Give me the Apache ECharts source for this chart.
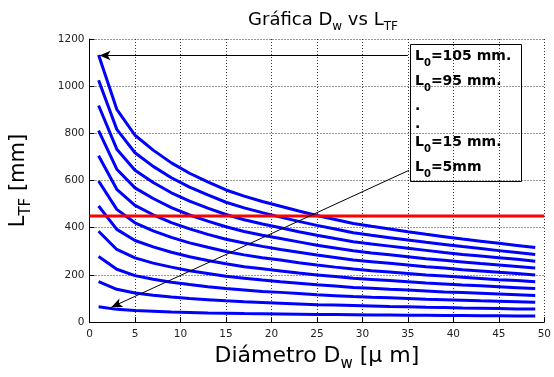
<!DOCTYPE html>
<html>
<head>
<meta charset="utf-8">
<script src="https://cdn.jsdelivr.net/npm/echarts@6/dist/echarts.min.js"></script>
<style>html,body{margin:0;padding:0;background:#fff}#c{width:554px;height:377px}</style>
</head>
<body>
<div id="c"></div>
<script>
// Diameter D_w [um] sample points
const Dw = [1,3,5,7,9,11,13,15,17,19,21,23,25,27,29,31,33,35,37,39,41,43,45,47,49];
// L_TF [mm] per L0 curve
const L5   = [65,54,49,46,43,41,39,38,36,35,34,33,32,32,31,30,30,29,29,28,28,27,27,26,26];
const L15  = [172,139,123,114,106,100,95,90,86,83,80,77,74,72,70,68,66,65,63,62,60,59,58,56,55];
const L25  = [278,224,197,182,169,159,150,142,136,130,126,121,116,112,108,105,103,100,97,95,93,90,88,86,84];
const L35  = [385,308,272,250,233,218,206,194,186,178,171,165,158,153,147,143,139,136,132,128,125,122,119,116,113];
const L45  = [492,393,346,319,296,277,261,247,235,226,217,208,200,193,186,181,176,171,166,162,157,154,150,146,142];
const L55  = [598,478,421,387,359,336,317,299,285,273,263,252,242,233,225,218,212,206,200,195,190,185,180,176,171];
const L65  = [705,563,495,455,422,395,372,351,335,321,308,296,284,274,263,256,249,242,235,229,222,217,211,206,200];
const L75  = [812,648,569,524,485,454,428,404,384,368,354,340,326,314,302,293,285,277,269,262,255,248,242,236,229];
const L85  = [918,733,644,592,548,513,483,456,434,416,400,383,368,354,341,331,322,313,304,295,287,280,273,266,258];
const L95  = [1025,817,718,660,612,572,539,508,484,464,445,427,410,395,379,368,358,348,338,329,320,312,303,295,287];
const L105 = [1132,902,792,729,675,631,594,560,534,511,491,471,452,435,418,406,395,383,372,362,352,343,334,325,316];
const curves = [L5,L15,L25,L35,L45,L55,L65,L75,L85,L95,L105];
const limitValue = 450;           // red horizontal line
const xRange = [0, 50];
const legendLines = ['=105 mm.', '=95 mm.', '.', '.', '=15 mm.', '=5mm'];
// arrow annotations [from, to] in data coords
const arrowTop = [[35, 1130], [1.1, 1130]];
const arrowBottom = [[35.1, 643], [2.4, 63]];

const FONT = 'DejaVu Sans';
const chart = echarts.init(document.getElementById('c'), null, {renderer: 'canvas'});

const series = curves.map(arr => ({
  type: 'line',
  data: Dw.map((x, i) => [x, arr[i]]),
  showSymbol: false,
  symbol: 'none',
  silent: true,
  lineStyle: {color: '#0000ff', width: 3},
  z: 3
}));
series.push({
  type: 'line',
  data: [[xRange[0], limitValue], [xRange[1], limitValue]],
  showSymbol: false,
  symbol: 'none',
  silent: true,
  lineStyle: {color: '#ff0000', width: 3},
  z: 4,
  markLine: {
    silent: true,
    symbol: ['none', 'arrow'],
    symbolSize: [7, 11],
    label: {show: false},
    lineStyle: {color: '#000', width: 1, type: 'solid'},
    data: [
      [{coord: arrowTop[0]}, {coord: arrowTop[1]}],
      [{coord: arrowBottom[0]}, {coord: arrowBottom[1]}]
    ]
  }
});

const legendGraphics = [{
  type: 'rect',
  shape: {x: 410.5, y: 44.5, width: 111, height: 137},
  style: {fill: 'none', stroke: '#000', lineWidth: 1},
  z: 10
}];
const legendY = [56, 81, 106, 124, 142, 167];
legendLines.forEach((t, i) => {
  const isDot = t === '.';
  legendGraphics.push({
    type: 'text',
    x: 415, y: legendY[i],
    z: 11,
    style: {
      text: isDot ? '{a|.}' : '{a|L}{s|0}{a|' + t + '}',
      verticalAlign: 'middle',
      rich: {
        a: {fontFamily: FONT, fontSize: 14, fontWeight: 'bold', color: '#000', lineHeight: 24, verticalAlign: 'middle'},
        s: {fontFamily: FONT, fontSize: 10, fontWeight: 'bold', color: '#000', lineHeight: 12, verticalAlign: 'bottom'}
      }
    }
  });
});

const gridLine = {show: true, lineStyle: {color: '#333', width: 1, type: [1, 2]}};

chart.setOption({
  animation: false,
  backgroundColor: '#fff',
  title: {
    text: '{a|Gráfica D}{s|w}{a| vs L}{s|TF}',
    left: 318, top: 2,
    textAlign: 'center',
    textStyle: {
      fontWeight: 'normal',
      rich: {
        a: {fontFamily: FONT, fontSize: 18, fontWeight: 'normal', color: '#000', lineHeight: 26, verticalAlign: 'middle'},
        s: {fontFamily: FONT, fontSize: 12, fontWeight: 'normal', color: '#000', lineHeight: 12, verticalAlign: 'bottom'}
      }
    }
  },
  grid: {left: 87, right: 5, top: 39, bottom: 52, containLabel: false},
  xAxis: {
    type: 'value', min: xRange[0], max: xRange[1], interval: 5,
    name: '{a|Diámetro D}{s|w}{a| [μ m]}',
    nameLocation: 'middle', nameGap: 14,
    nameTextStyle: {
      rich: {
        a: {fontFamily: FONT, fontSize: 22, color: '#000', lineHeight: 32, verticalAlign: 'middle'},
        s: {fontFamily: FONT, fontSize: 15, color: '#000', lineHeight: 15, verticalAlign: 'bottom'}
      }
    },
    axisLine: {show: true, lineStyle: {color: '#000', width: 1}},
    axisTick: {show: true, inside: true, length: 5, lineStyle: {color: '#000'}},
    axisLabel: {fontFamily: FONT, fontSize: 10.5, color: '#222', margin: 7, formatter: v => String(v)},
    splitLine: gridLine
  },
  yAxis: {
    type: 'value', min: 0, max: 1200, interval: 200,
    name: '{a|L}{s|TF}{a| [mm]}',
    nameLocation: 'middle', nameGap: 56,
    nameTextStyle: {
      rich: {
        a: {fontFamily: FONT, fontSize: 21, color: '#000', lineHeight: 30, verticalAlign: 'middle'},
        s: {fontFamily: FONT, fontSize: 15, color: '#000', lineHeight: 15, verticalAlign: 'bottom'}
      }
    },
    axisLine: {show: true, lineStyle: {color: '#000', width: 1}},
    axisTick: {show: true, inside: true, length: 5, lineStyle: {color: '#000'}},
    axisLabel: {fontFamily: FONT, fontSize: 10.5, color: '#222', margin: 5, formatter: v => String(v)},
    splitLine: gridLine
  },
  series: series,
  graphic: legendGraphics
});
</script>
</body>
</html>
